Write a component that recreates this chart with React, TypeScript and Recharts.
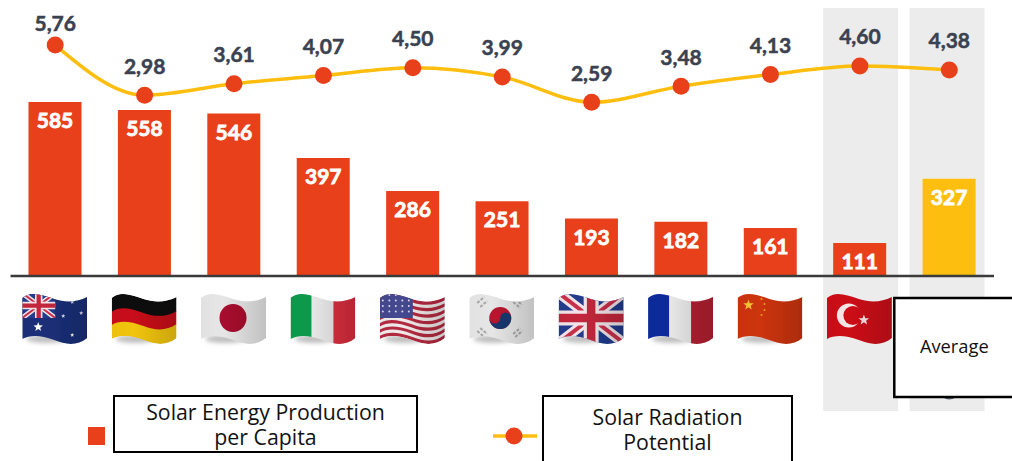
import { Bar, Cell, ComposedChart, LabelList, Legend, Line, ReferenceArea, XAxis, YAxis } from "recharts";

const countries = ["AU", "DE", "JP", "IT", "US", "KR", "GB", "FR", "CN", "TR", "Average"];
const production = [585, 558, 546, 397, 286, 251, 193, 182, 161, 111, 327];
const radiation = [5.76, 2.98, 3.61, 4.07, 4.5, 3.99, 2.59, 3.48, 4.13, 4.6, 4.38];

const data = countries.map((country, i) => ({
  country,
  production: production[i],
  radiation: radiation[i],
}));

const ORANGE = "#e8401a";
const YELLOW = "#fdbe10";
const INK = "#3a4150";
const SANS = "'Open Sans', sans-serif";

// wavy flag outline, the stripes are interpolated between these two curves
const topCurve = [[0, 5], [8, -2], [18, 1], [32, 6], [44, 10], [55, 9], [65, 4]];
const bottomCurve = [[0, 46], [8, 42], [18, 42], [30, 47], [42, 52], [55, 53], [65, 45]];

function curveAt(f: number) {
  return topCurve.map((p, i) => [p[0], p[1] + (bottomCurve[i][1] - p[1]) * f]);
}

function band(f0: number, f1: number) {
  const a = curveAt(f0);
  const b = curveAt(f1).reverse();
  const s = (p: number[]) => `${p[0]},${p[1]}`;
  return `M${s(a[0])}C${s(a[1])} ${s(a[2])} ${s(a[3])}C${s(a[4])} ${s(a[5])} ${s(a[6])}L${s(b[0])}C${s(b[1])} ${s(b[2])} ${s(b[3])}C${s(b[4])} ${s(b[5])} ${s(b[6])}Z`;
}

function Star({ x, y, r, fill }: { x: number; y: number; r: number; fill: string }) {
  const pts = Array.from({ length: 10 }, (_, i) => {
    const a = -Math.PI / 2 + (i * Math.PI) / 5;
    const rr = i % 2 ? r * 0.42 : r;
    return `${x + rr * Math.cos(a)},${y + rr * Math.sin(a)}`;
  }).join(" ");
  return <polygon points={pts} fill={fill} />;
}

function UnionJack({ w, h }: { w: number; h: number }) {
  return (
    <g>
      <rect x={-2} y={-4} width={w + 4} height={h + 8} fill="#213b8c" />
      <path d={`M0,0L${w},${h}M${w},0L0,${h}`} stroke="#f2e4e8" strokeWidth={h * 0.2} />
      <path d={`M0,0L${w},${h}M${w},0L0,${h}`} stroke="#c8304a" strokeWidth={h * 0.08} />
      <path d={`M${w / 2},-4V${h + 4}M-2,${h / 2}H${w + 2}`} stroke="#f2e4e8" strokeWidth={h * 0.3} />
      <path d={`M${w / 2},-4V${h + 4}M-2,${h / 2}H${w + 2}`} stroke="#c3283c" strokeWidth={h * 0.17} />
    </g>
  );
}

function FlagArt({ code }: { code: string }) {
  switch (code) {
    case "AU":
      return (
        <g>
          <rect x={0} y={-4} width={65} height={60} fill="#1b2f78" />
          <clipPath id="au-canton"><rect x={0} y={-4} width={33} height={29} /></clipPath>
          <g clipPath="url(#au-canton)"><UnionJack w={33} h={25} /></g>
          <Star x={16} y={34} r={5} fill="#fff" />
          <Star x={50} y={9} r={2.2} fill="#dfe3f0" />
          <Star x={50} y={42} r={2.2} fill="#fff" />
          <Star x={41} y={23} r={2.2} fill="#dfe3f0" />
          <Star x={59} y={20} r={2.2} fill="#dfe3f0" />
        </g>
      );
    case "DE":
      return (
        <g>
          <path d={band(0, 0.36)} fill="#0a0a0a" />
          <path d={band(0.34, 0.68)} fill="#c8101a" />
          <path d={band(0.66, 1)} fill="#f1c40f" />
        </g>
      );
    case "JP":
      return (
        <g>
          <rect x={0} y={-4} width={65} height={60} fill="#e6e6e6" />
          <ellipse cx={32} cy={25} rx={13.5} ry={14} fill="#a60a2e" />
        </g>
      );
    case "IT":
      return (
        <g>
          <rect x={0} y={-4} width={65} height={60} fill="#e6e6e6" />
          <rect x={0} y={-4} width={21} height={60} fill="#0a9a4c" />
          <rect x={43} y={-4} width={22} height={60} fill="#d92e3e" />
        </g>
      );
    case "US":
      return (
        <g>
          <rect x={0} y={-4} width={65} height={60} fill="#f0eaea" />
          {Array.from({ length: 7 }, (_, i) => (
            <path key={i} d={band((i * 2) / 13, (i * 2 + 1) / 13)} fill="#b32a40" />
          ))}
          <rect x={0} y={-4} width={33} height={29} fill="#45488f" />
          {Array.from({ length: 20 }, (_, i) => (
            <circle key={i} cx={3 + (i % 5) * 6.5} cy={2 + Math.floor(i / 5) * 5.5} r={1} fill="#d8d8ea" />
          ))}
        </g>
      );
    case "KR":
      return (
        <g>
          <rect x={0} y={-4} width={65} height={60} fill="#e6e6e6" />
          <circle cx={31} cy={25} r={11} fill="#b8142e" />
          <path d="M20,25a5.5,5.5 0 0 0 11,0a5.5,5.5 0 0 1 11,0a11,11 0 0 1 -22,0Z" fill="#16386e" />
          <path d="M8,10l7,-6M11,14l7,-6M46,6l7,6M44,9l7,6M8,38l7,6M11,35l7,6M46,44l7,-6M44,41l7,-6" stroke="#a8a8a8" strokeWidth={2} strokeDasharray="3 1.5" />
        </g>
      );
    case "GB":
      return <UnionJack w={65} h={50} />;
    case "FR":
      return (
        <g>
          <rect x={0} y={-4} width={65} height={60} fill="#e6e6e6" />
          <rect x={0} y={-4} width={21} height={60} fill="#0d2a9c" />
          <rect x={43} y={-4} width={22} height={60} fill="#b21f32" />
        </g>
      );
    case "CN":
      return (
        <g>
          <rect x={0} y={-4} width={65} height={60} fill="#cc3410" />
          <Star x={11} y={12} r={5.5} fill="#f4c531" />
          <circle cx={24} cy={6} r={1} fill="#e8a020" />
          <circle cx={27} cy={11} r={1} fill="#e8a020" />
          <circle cx={27} cy={17} r={1} fill="#e8a020" />
          <circle cx={24} cy={22} r={1} fill="#e8a020" />
        </g>
      );
    case "TR":
      return (
        <g>
          <rect x={0} y={-4} width={65} height={60} fill="#cc0e18" />
          <circle cx={22} cy={22.5} r={12} fill="#f6e6e6" />
          <circle cx={26} cy={22.5} r={9.5} fill="#cc0e18" />
          <Star x={37} y={27} r={5.5} fill="#f6e6e6" />
        </g>
      );
    default:
      return null;
  }
}

function CountryTick({ x, payload }: any) {
  const code = payload.value;
  if (code === "Average") {
    return (
      <g>
        <path d={`M${x - 7},396 q7,5 14,0`} fill="none" stroke="#5b6478" strokeWidth={2} />
        <rect x={x - 55} y={298} width={130} height={99} fill="#fff" stroke="#000" strokeWidth={2.5} />
        <text x={x + 5} y={353} textAnchor="middle" fontFamily={SANS} fontSize={18.3} fill="#111">Average</text>
      </g>
    );
  }
  const clipId = `flag-clip-${code}`;
  const shadeId = `flag-shade-${code}`;
  return (
    <g transform={`translate(${x - 33},293)`} filter="url(#flag-soft)">
      {code !== "TR" && <ellipse cx={24} cy={46} rx={20} ry={4} fill="#8a8a8a" opacity={0.55} filter="url(#flag-shadow)" />}
      <defs>
        <clipPath id={clipId}><path d={band(0, 1)} /></clipPath>
        <linearGradient id={shadeId} x1="0" y1="0" x2="1" y2="0">
          <stop offset="0" stopColor="#000" stopOpacity={0.02} />
          <stop offset="0.35" stopColor="#000" stopOpacity={0} />
          <stop offset="1" stopColor="#000" stopOpacity={0.16} />
        </linearGradient>
      </defs>
      <g clipPath={`url(#${clipId})`}>
        <FlagArt code={code} />
        <rect x={0} y={-4} width={65} height={60} fill={`url(#${shadeId})`} />
      </g>
    </g>
  );
}

function HighlightBand({ x, inset }: any) {
  return <rect x={x + inset} y={8} width={75} height={403} fill="#ececec" />;
}

const formatRadiation = (v: number) => Number(v).toFixed(2).replace(".", ",");

// the first label sits against the top of the picture, so it is held down
function RadiationLabel({ viewBox, x, y, value }: any) {
  const px = viewBox ? viewBox.x : x;
  const py = viewBox ? viewBox.y : y;
  return (
    <text x={px} y={Math.max(py - 30, 22)} textAnchor="middle" dominantBaseline="central" fill={INK} stroke={INK} strokeWidth={0.5} fontFamily="Lato, sans-serif" fontWeight={700} fontSize={21}>
      {formatRadiation(value)}
    </text>
  );
}

const legendBoxes = [
  { left: 113, top: 395, width: 305, height: 58, pad: 2, first: "Solar Energy Production", second: "per Capita" },
  { left: 542, top: 395, width: 251, height: 70, pad: 7, first: "Solar Radiation", second: "Potential" },
];

function ChartLegend({ payload }: any) {
  return (
    <div>
      {(payload || []).map((entry: any, i: number) => {
        const box = legendBoxes[i];
        return (
          <div key={entry.value}>
            {i === 0 ? (
              <div style={{ position: "absolute", left: 88, top: 427, width: 17, height: 18, background: entry.color }} />
            ) : (
              <svg style={{ position: "absolute", left: 492, top: 424 }} width={46} height={24}>
                <line x1={1} y1={12} x2={45} y2={12} stroke={entry.color} strokeWidth={3.5} />
                <circle cx={22} cy={12} r={8.5} fill={ORANGE} />
              </svg>
            )}
            <div
              style={{
                position: "absolute",
                boxSizing: "border-box",
                left: box.left,
                top: box.top,
                width: box.width,
                height: box.height,
                paddingTop: box.pad,
                background: "#fff",
                border: "2.5px solid #000",
                fontFamily: SANS,
                fontSize: 21.3,
                lineHeight: "25px",
                textAlign: "center",
                color: "#111",
              }}
            >
              {box.first}<br />{box.second}
            </div>
          </div>
        );
      })}
    </div>
  );
}

export default function App() {
  return (
    <div style={{ position: "absolute", left: 0, top: 0, width: 1012, height: 461, overflow: "hidden", background: "#fff" }}>
      <ComposedChart width={1012} height={461} data={data} margin={{ top: 0, right: 18, left: 10.5, bottom: 155 }} barCategoryGap={0}>
        <defs>
          <filter id="flag-soft" x="-10%" y="-10%" width="120%" height="120%"><feGaussianBlur stdDeviation={0.5} /></filter>
          <filter id="flag-shadow" x="-30%" y="-100%" width="160%" height="300%"><feGaussianBlur stdDeviation={2.2} /></filter>
        </defs>
        <YAxis yAxisId="bars" hide domain={[0, 928]} />
        <YAxis yAxisId="line" hide domain={[-7.05, 8.26]} allowDataOverflow />
        <XAxis
          dataKey="country"
          height={30}
          interval={0}
          tickLine={false}
          axisLine={{ stroke: "#3a3a3a", strokeWidth: 2.5 }}
          tick={<CountryTick />}
        />
        <ReferenceArea yAxisId="bars" x1="TR" x2="TR" shape={<HighlightBand inset={8} />} />
        <ReferenceArea yAxisId="bars" x1="Average" x2="Average" shape={<HighlightBand inset={5} />} />
        <Bar yAxisId="bars" dataKey="production" name="Solar Energy Production per Capita" fill={ORANGE} barSize={53} isAnimationActive={false}>
          {countries.map((c) => <Cell key={c} fill={c === "Average" ? YELLOW : ORANGE} />)}
          <LabelList dataKey="production" position="insideTop" offset={11} fill="#fff" stroke="#fff" strokeWidth={0.8} fontFamily="Lato, sans-serif" fontWeight={700} fontSize={21} />
        </Bar>
        <Line
          yAxisId="line"
          type="monotone"
          dataKey="radiation"
          name="Solar Radiation Potential"
          stroke={YELLOW}
          strokeWidth={3.5}
          dot={{ r: 8.5, fill: ORANGE, stroke: "none" }}
          isAnimationActive={false}
        >
          <LabelList dataKey="radiation" content={<RadiationLabel />} />
        </Line>
        <Legend content={<ChartLegend />} wrapperStyle={{ position: "absolute", left: 0, top: 0, width: 0, height: 0 }} />
      </ComposedChart>
    </div>
  );
}
